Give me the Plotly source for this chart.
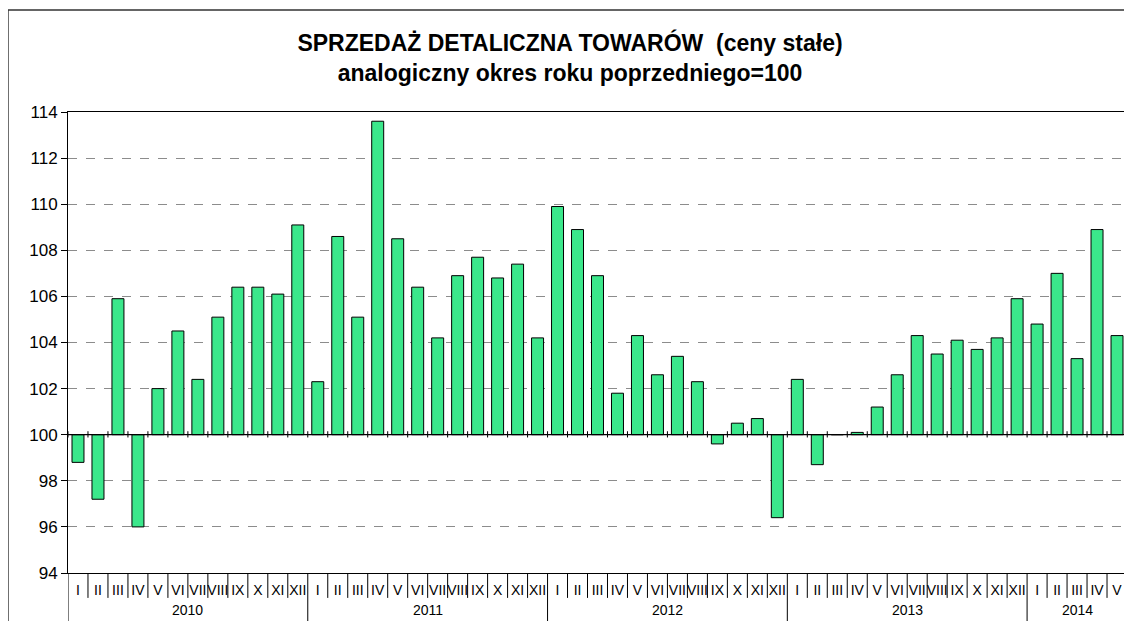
import plotly.graph_objects as go

months = ["I", "II", "III", "IV", "V", "VI", "VII", "VIII", "IX", "X", "XI", "XII"]
years = ["2010", "2011", "2012", "2013", "2014"]
months_per_year = [12, 12, 12, 12, 5]

values_2010 = [98.8, 97.2, 105.9, 96.0, 102.0, 104.5, 102.4, 105.1, 106.4, 106.4, 106.1, 109.1]
values_2011 = [102.3, 108.6, 105.1, 113.6, 108.5, 106.4, 104.2, 106.9, 107.7, 106.8, 107.4, 104.2]
values_2012 = [109.9, 108.9, 106.9, 101.8, 104.3, 102.6, 103.4, 102.3, 99.6, 100.5, 100.7, 96.4]
values_2013 = [102.4, 98.7, 100.0, 100.1, 101.2, 102.6, 104.3, 103.5, 104.1, 103.7, 104.2, 105.9]
values_2014 = [104.8, 107.0, 103.3, 108.9, 104.3]

yticks = [94, 96, 98, 100, 102, 104, 106, 108, 110, 112, 114]
base_value = 100

values = values_2010 + values_2011 + values_2012 + values_2013 + values_2014
labels = []
for n in months_per_year:
    labels += months[:n]
xs = list(range(len(values)))

fig = go.Figure()
fig.add_trace(go.Bar(
    x=xs, y=[v - base_value for v in values], base=base_value,
    marker=dict(color="#3BE78B", line=dict(color="black", width=1)),
    width=0.6,
    customdata=values,
    hovertemplate="%{customdata}<extra></extra>",
))

shapes = []
N = len(values)
# baseline at 100
shapes.append(dict(type="line", xref="paper", yref="y", x0=0, x1=1, y0=base_value, y1=base_value,
                   line=dict(color="black", width=1.2)))
boundaries = [-0.5]
acc = -0.5
for n in months_per_year:
    acc += n
    boundaries.append(acc)
year_bounds = set(boundaries[:-1])
for i in range(N + 1):
    b = i - 0.5
    shapes.append(dict(type="line", xref="x", yref="y", x0=b, x1=b, y0=base_value - 0.12, y1=base_value + 0.15,
                       line=dict(color="black", width=1)))
    y_end = -0.2 if b in year_bounds else -0.054
    shapes.append(dict(type="line", xref="x", yref="paper", x0=b, x1=b, y0=0, y1=y_end,
                       line=dict(color="black", width=1)))
# outer border
shapes.append(dict(type="rect", xref="paper", yref="paper", x0=-0.0567, x1=1.02, y0=-0.3, y1=1.2213,
                   line=dict(color="#333333", width=1.5), fillcolor="rgba(0,0,0,0)", layer="below"))

annotations = []
start = 0
for yr, n in zip(years, months_per_year):
    center = start + (n - 1) / 2
    annotations.append(dict(x=center, y=-0.08, xref="x", yref="paper", text=yr, showarrow=False,
                            font=dict(family="Arial, Liberation Sans", size=14, color="black"),
                            yanchor="middle"))
    start += n

fig.update_layout(
    width=1124, height=613,
    margin=dict(l=60, r=5, t=104, b=48),
    paper_bgcolor="white", plot_bgcolor="white",
    showlegend=False,
    title=dict(
        text="<b>SPRZEDAŻ DETALICZNA TOWARÓW  (ceny stałe)<br>analogiczny okres roku poprzedniego=100</b>",
        x=0.5, xanchor="center", y=0.93, yanchor="middle",
        font=dict(family="Arial, Liberation Sans", size=23, color="black"),
    ),
    xaxis=dict(
        range=[-0.5, N - 0.5], tickmode="array", tickvals=xs, ticktext=labels,
        showline=True, linecolor="black", linewidth=1, mirror=True,
        showgrid=False, ticks="", zeroline=False, ticklabelstandoff=4,
        tickfont=dict(family="Arial, Liberation Sans", size=14, color="black"),
        tickangle=0,
    ),
    yaxis=dict(
        range=[94, 114], tickmode="array", tickvals=yticks,
        showline=True, linecolor="black", linewidth=1, mirror=True,
        showgrid=True, gridcolor="#8c8c8c", griddash="dash", gridwidth=1,
        ticks="outside", ticklen=6, tickcolor="black", zeroline=False,
        tickfont=dict(family="Arial, Liberation Sans", size=17, color="black"),
    ),
    shapes=shapes,
    annotations=annotations,
    bargap=0.4,
)

fig.write_html("out.html")
